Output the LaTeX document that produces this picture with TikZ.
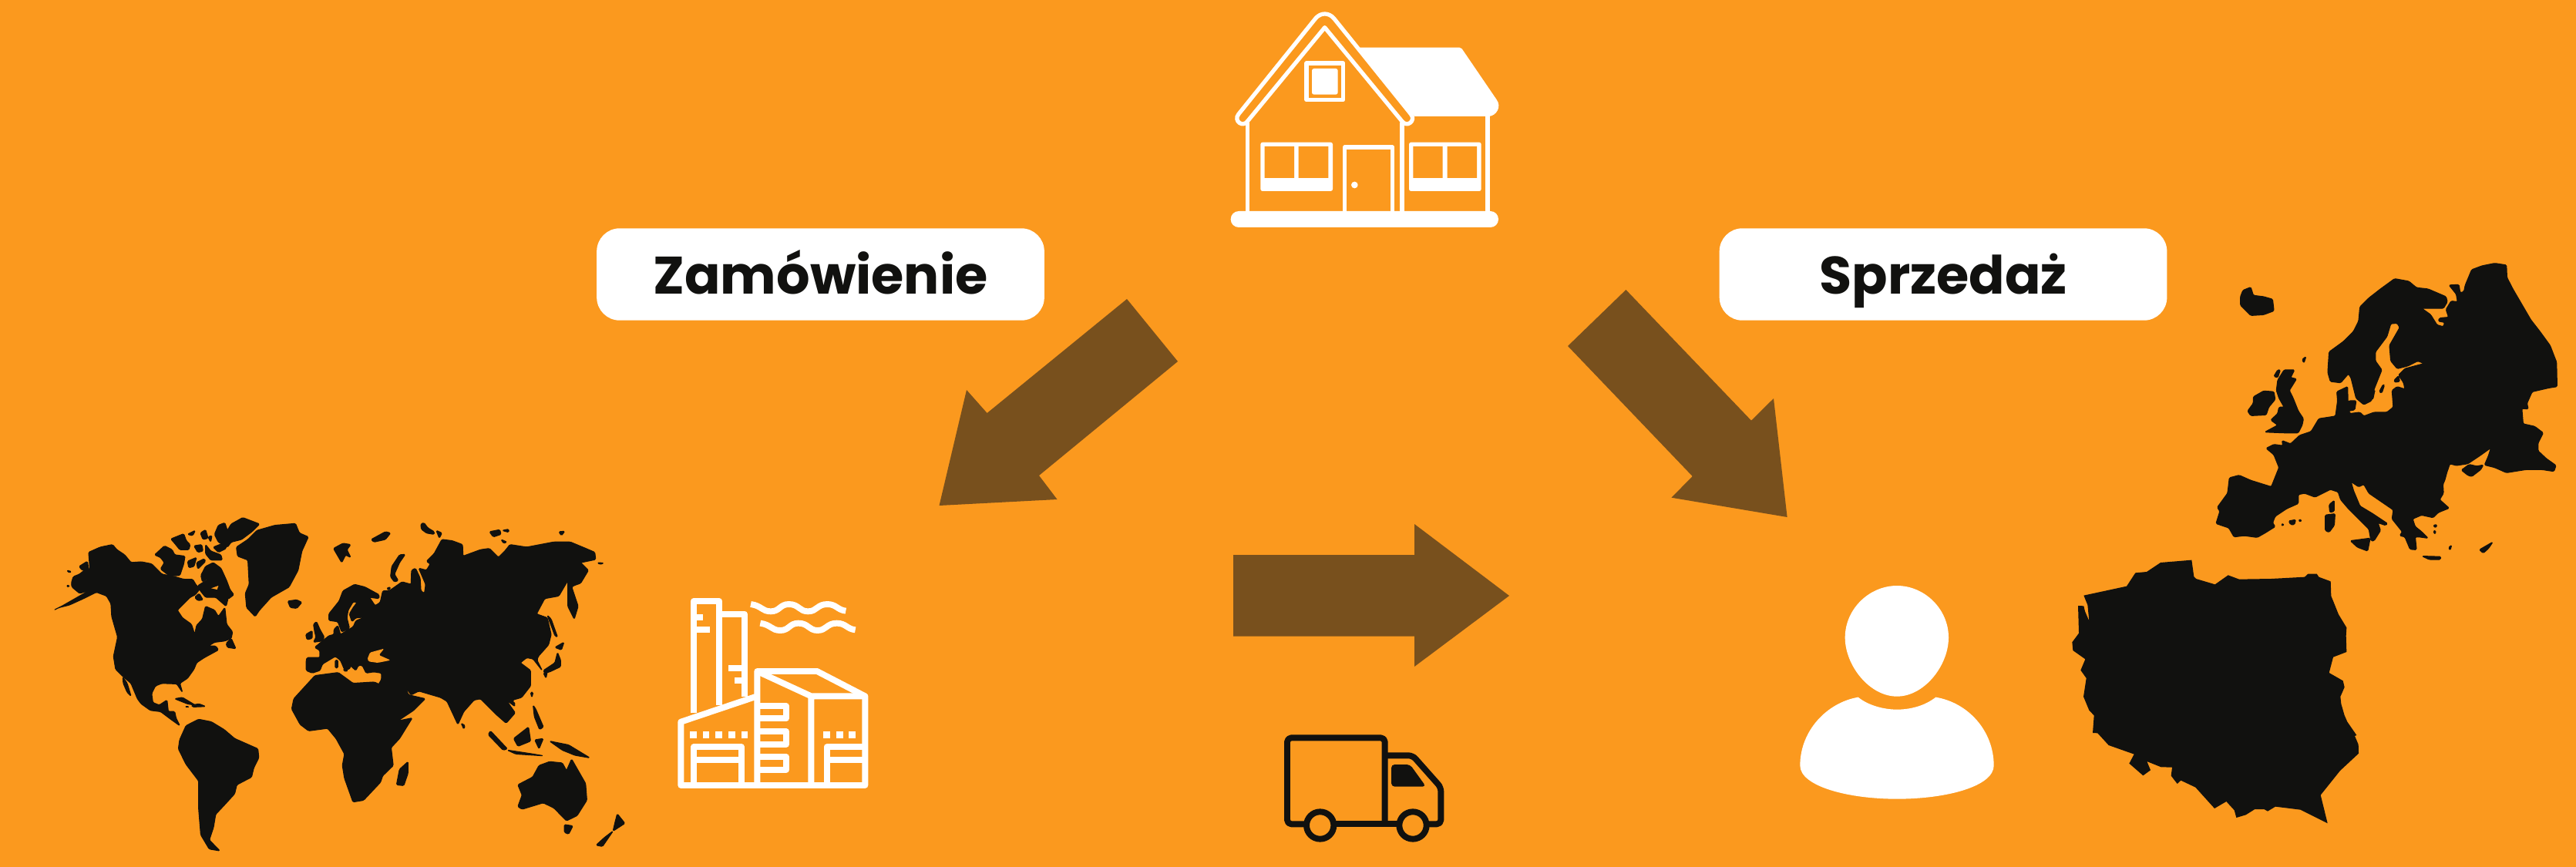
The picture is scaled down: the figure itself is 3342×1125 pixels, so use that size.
\documentclass[tikz,border=0pt]{standalone}
\usepackage{fontspec}
\setmainfont{Poppins}[BoldFont={Poppins Bold}]
\definecolor{bgc}{HTML}{FB991E}
\definecolor{inkc}{HTML}{11110F}
\definecolor{arrc}{HTML}{78501D}
\tikzset{
  labelbox/.style={fill=white,rounded corners=17pt,minimum width=330.5pt,minimum height=68pt,inner sep=0pt,text=inkc,font=\fontsize{39}{39}\selectfont\bfseries,text height=29.5pt,text depth=0pt},
  blockarrow/.style={fill=arrc},
  houseline/.style={draw=white,line width=3pt,line join=round},
  housefill/.style={fill=white},
  factoryline/.style={draw=white,line width=4.5pt,line join=round},
  truckline/.style={draw=inkc,line width=4.5pt,line join=round},
  landmass/.style={fill=inkc,draw=inkc,line width=0.7pt,line join=round,rounded corners=0.8pt},
  polandshape/.style={fill=inkc},
  seawater/.style={fill=bgc,rounded corners=0.8pt}
}
\begin{document}
\begin{tikzpicture}[x=0.02cm,y=-0.02cm]
\useasboundingbox (0,0) rectangle (3342,1125);
\fill[bgc] (0,0) rectangle (3342,1125);

% labels
\node[labelbox] (zam) at (1064.5,356) {Zamówienie};
\node[labelbox] (sprz) at (2521,356) {Sprzedaż};

% block arrows
\fill[blockarrow] (1462,388) -- (1528,469) -- (1348,617) -- (1371.5,648) -- (1218.5,656) -- (1254,506) -- (1280.6,536) -- cycle;
\fill[blockarrow] (2109.4,376) -- (2272,545.7) -- (2301,517) -- (2318.6,671) -- (2168.5,645.7) -- (2195.7,618) -- (2034,449) -- cycle;
\fill[blockarrow] (1600,720) -- (1835,720) -- (1835,680) -- (1958,773) -- (1835,865) -- (1835,825.7) -- (1600,825.7) -- cycle;

% house
\begin{scope}[shift={(1560,0)},scale=1/3]
\fill[housefill] (610,185) -- (1000,185) .. controls (1005,185) and (1007,186) .. (1010,190) -- (1145,388) .. controls (1165,415) and (1145,450) .. (1115,453) -- (826,453) -- cycle;
\draw[houseline] (440,72) .. controls (460,48) and (492,48) .. (512,72) -- (812,445) .. controls (832,470) and (795,500) .. (775,470) -- (476,107) -- (177,470) .. controls (157,500) and (120,470) .. (140,445) -- cycle;
\draw[houseline] (175,478) -- (175,830) (777,478) -- (777,830) (1110,450) -- (1110,830);
\fill[housefill,rounded corners=5.9pt] (110,822) rectangle (1152,885);
\draw[houseline] (405,246) rectangle (548,389);
\fill[housefill,rounded corners=1.5pt] (426,267) rectangle (527,368);
\fill[housefill,rounded corners=1.5pt] (226,554) rectangle (507,744);
\fill[bgc] (242,570) rectangle (357,693) (374,570) rectangle (490,693);
\fill[housefill,rounded corners=1.5pt] (804,554) rectangle (1085,744);
\fill[bgc] (820,570) rectangle (935,693) (953,570) rectangle (1068,693);
\draw[houseline] (554,830) -- (554,573) -- (740,573) -- (740,830);
\fill[housefill] (592,720) circle (13);
\end{scope}

% factory
\begin{scope}[shift={(860,760)},scale=1/3]
\draw[factoryline] (120,495) -- (120,60) -- (219,60) -- (219,465);
\draw[factoryline] (219,110) -- (318,110) -- (318,432);
\draw[factoryline] (120,122) -- (157,122) (120,172) -- (182,172) (318,320) -- (255,320) (318,370) -- (280,370);
\draw[factoryline] (342,72) .. controls (385,78) and (385,100) .. (420,100) .. controls (455,100) and (455,72) .. (490,72) .. controls (530,72) and (530,100) .. (565,100) .. controls (600,100) and (600,72) .. (640,72) .. controls (675,72) and (680,95) .. (712,98);
\draw[factoryline] (379,146) .. controls (422,152) and (422,174) .. (457,174) .. controls (492,174) and (492,146) .. (527,146) .. controls (567,146) and (567,174) .. (602,174) .. controls (637,174) and (637,146) .. (677,146) .. controls (712,146) and (717,169) .. (749,172);
\draw[factoryline] (367,430) -- (70,530) -- (70,777) -- (787,777) -- (787,430) -- (600,333) -- (367,333) -- (367,777);
\draw[factoryline] (367,333) -- (577,430) -- (787,430) (577,430) -- (577,777);
\draw[factoryline] (120,777) -- (120,628) -- (305,628) -- (305,777) (120,678) -- (305,678);
\draw[factoryline] (638,777) -- (638,628) -- (787,628) (638,678) -- (787,678);
\draw[factoryline] (367,468) -- (479,468) -- (479,517) -- (367,517) (367,567) -- (479,567) -- (479,617) -- (367,617) (367,666) -- (479,666) -- (479,716) -- (367,716);
\foreach \dx in {105,155,205,255,305,624,675,724} \fill[white] (\dx,567) rectangle ++(26,27);
\end{scope}

% truck
\begin{scope}[shift={(1640,920)},scale=1/3]
\draw[truckline,rounded corners=3pt] (160,448) -- (90,448) -- (90,112) -- (470,112) -- (470,448);
\draw[truckline] (275,448) -- (520,448);
\draw[truckline,rounded corners=3pt] (470,181) -- (578,181) -- (688,305) -- (688,448) -- (638,448);
\draw[truckline] (218,453) circle (53) (579,453) circle (53);
\fill[inkc,rounded corners=2.5pt] (495,216) -- (568,216) -- (630,302) -- (495,302) -- cycle;
\end{scope}

% person
\begin{scope}[shift={(2300,740)},scale=1/3]
\fill[white] (483,60) .. controls (590,60) and (684,150) .. (684,262) .. controls (684,370) and (590,491) .. (483,491) .. controls (376,491) and (281,370) .. (281,262) .. controls (281,150) and (376,60) .. (483,60) -- cycle;
\fill[white] (332,494) .. controls (370,525) and (430,542) .. (483,542) .. controls (540,542) and (595,525) .. (634,494) .. controls (760,515) and (860,625) .. (860,760) .. controls (860,840) and (680,890) .. (483,890) .. controls (290,890) and (106,840) .. (106,760) .. controls (106,625) and (210,515) .. (332,494) -- cycle;
\end{scope}

% Poland
\begin{scope}[shift={(2640,710)},scale=1/3]
\fill[polandshape] (190,188) -- (357,152) -- (391,100) -- (435,96) -- (489,60) -- (610,50) -- (619,115) -- (627,123) -- (701,145) -- (752,109) -- (795,125) -- (920,123) -- (1050,116) -- (1063,104) -- (1097,104) -- (1105,116) -- (1151,133) -- (1153,190) -- (1182,262) -- (1213,313) -- (1211,345) -- (1213,408) -- (1161,428) -- (1145,489) -- (1199,520) -- (1205,545) -- (1189,582) -- (1192,610) -- (1205,655) -- (1216,680) -- (1252,732) -- (1245,735) -- (1259,768) -- (1260,803) -- (1188,870) -- (1112,965) -- (1139,1075) -- (1033,1022) -- (936,1010) -- (906,1028) -- (892,1020) -- (856,1020) -- (821,1042) -- (784,1053) -- (776,1024) -- (745,990) -- (699,1017) -- (625,935) -- (568,908) -- (554,921) -- (530,890) -- (534,857) -- (491,856) -- (436,834) -- (450,868) -- (421,889) -- (367,842) -- (386,806) -- (287,771) -- (244,724) -- (225,723) -- (230,655) -- (211,635) -- (189,582) -- (200,510) -- (178,479) -- (196,436) -- (148,402) -- (145,370) -- (171,335) -- (168,228) -- (190,229) -- (195,250) -- (211,287) -- (205,225) -- cycle;
\end{scope}

% Europe
\begin{scope}[shift={(2840,320)},scale=1/3]
\fill[landmass] (1235,72) -- (1237,120) -- (1260,165) -- (1295,225) -- (1330,285) -- (1365,330) -- (1405,385) -- (1430,450) -- (1432,545) -- (1400,550) -- (1335,565) -- (1315,610) -- (1320,632) -- (1295,630) -- (1300,690) -- (1345,700) -- (1378,725) -- (1358,765) -- (1358,795) -- (1390,825) -- (1428,852) -- (1420,875) -- (1375,868) -- (1310,868) -- (1235,880) -- (1190,860) -- (1150,850) -- (1165,815) -- (1175,783) -- (1130,815) -- (1085,845) -- (1040,852) -- (1015,845) -- (1003,880) -- (995,910) -- (988,925) -- (990,960) -- (975,985) -- (1012,1018) -- (970,1035) -- (950,1055) -- (905,1045) -- (870,1060) -- (880,1090) -- (905,1110) -- (930,1135) -- (895,1130) -- (880,1130) -- (885,1180) -- (860,1178) -- (840,1130) -- (820,1125) -- (830,1110) -- (790,1060) -- (795,1025) -- (700,960) -- (680,925) -- (660,935) -- (630,915) -- (640,950) -- (665,1010) -- (715,1040) -- (772,1078) -- (765,1085) -- (735,1075) -- (745,1105) -- (720,1145) -- (708,1145) -- (700,1100) -- (660,1060) -- (620,1020) -- (590,985) -- (580,955) -- (550,945) -- (490,975) -- (450,960) -- (425,965) -- (425,1000) -- (380,1020) -- (335,1050) -- (325,1075) -- (335,1090) -- (295,1115) -- (265,1132) -- (215,1125) -- (175,1130) -- (155,1095) -- (105,1078) -- (120,1030) -- (110,1015) -- (150,960) -- (157,900) -- (195,890) -- (240,910) -- (320,935) -- (350,860) -- (330,810) -- (300,785) -- (330,770) -- (365,775) -- (362,755) -- (395,768) -- (430,735) -- (475,720) -- (505,670) -- (570,660) -- (578,600) -- (575,565) -- (617,545) -- (618,600) -- (625,650) -- (665,645) -- (680,660) -- (720,645) -- (770,645) -- (795,625) -- (790,560) -- (810,545) -- (840,555) -- (835,530) -- (815,500) -- (840,475) -- (915,455) -- (890,445) -- (850,465) -- (810,475) -- (785,445) -- (780,385) -- (820,315) -- (810,298) -- (785,300) -- (770,350) -- (725,410) -- (725,445) -- (750,480) -- (720,555) -- (710,600) -- (680,615) -- (650,590) -- (630,510) -- (620,495) -- (590,530) -- (550,525) -- (540,490) -- (545,410) -- (600,370) -- (640,330) -- (660,290) -- (665,235) -- (700,200) -- (745,165) -- (800,125) -- (855,135) -- (885,160) -- (930,165) -- (1000,195) -- (1005,215) -- (990,240) -- (905,240) -- (940,265) -- (965,305) -- (990,312) -- (995,295) -- (970,290) -- (975,278) -- (1010,275) -- (1000,245) -- (1020,212) -- (1045,215) -- (1040,185) -- (1012,150) -- (1050,148) -- (1055,180) -- (1070,175) -- (1075,150) -- (1100,90) -- (1140,75) -- (1190,65) -- cycle;
% Iceland
\fill[landmass] (200,195) -- (210,170) -- (240,158) -- (250,190) -- (290,195) -- (325,205) -- (330,250) -- (290,265) -- (240,268) -- (200,228) -- cycle;
% Ireland
\fill[landmass] (250,585) -- (290,562) -- (330,565) -- (335,595) -- (310,625) -- (300,655) -- (240,658) -- (228,640) -- (250,610) -- cycle;
% Great Britain
\fill[landmass] (345,520) -- (370,480) -- (410,480) -- (395,510) -- (418,515) -- (390,560) -- (405,590) -- (425,640) -- (445,670) -- (440,695) -- (425,725) -- (370,725) -- (295,722) -- (345,695) -- (318,675) -- (345,650) -- (350,625) -- (370,625) -- (350,590) -- (340,560) -- cycle;
\fill[landmass] (330,505) -- (345,480) -- (355,480) -- (345,510) -- cycle;
\fill[landmass] (440,440) -- (455,428) -- (447,453) -- cycle;
% Denmark islands, Gotland, Oland
\fill[landmass] (600,610) -- (625,600) -- (650,600) -- (645,635) -- (620,640) -- cycle;
\fill[landmass] (740,565) -- (755,537) -- (760,540) -- (750,570) -- cycle;
\fill[landmass] (712,590) -- (720,560) -- (722,562) -- (716,592) -- cycle;
\fill[landmass] (798,520) -- (815,503) -- (820,525) -- (800,528) -- cycle;
% Mediterranean islands
\fill[landmass] (545,1005) -- (565,988) -- (565,1030) -- (548,1035) -- cycle;
\fill[landmass] (530,1045) -- (568,1040) -- (565,1085) -- (545,1112) -- (530,1105) -- cycle;
\fill[landmass] (628,1145) -- (705,1135) -- (695,1185) -- (655,1170) -- cycle;
\fill[landmass] (388,1068) -- (415,1063) -- (410,1082) -- (395,1082) -- cycle;
\fill[landmass] (358,1082) -- (368,1078) -- (366,1088) -- cycle;
\fill[landmass] (425,1065) -- (437,1062) -- (435,1072) -- cycle;
\fill[landmass] (907,1205) -- (980,1207) -- (978,1218) -- (935,1218) -- cycle;
\fill[landmass] (1130,1180) -- (1182,1150) -- (1165,1175) -- (1145,1193) -- cycle;
\fill[landmass] (1010,1172) -- (1022,1162) -- (1016,1182) -- cycle;
\fill[landmass] (950,1085) -- (965,1082) -- (960,1095) -- cycle;
\fill[landmass] (950,1108) -- (960,1105) -- (958,1120) -- cycle;
% Crimea
\fill[landmass] (1060,870) -- (1090,848) -- (1120,855) -- (1145,850) -- (1135,868) -- (1100,895) -- (1085,890) -- cycle;
\end{scope}

% World: Americas and Atlantic north
\begin{scope}[shift={(70,660)},scale=1/3]
\fill[landmass] (68,290) -- (75,265) -- (100,255) -- (118,240) -- (140,235) -- (135,170) -- (180,150) -- (228,140) -- (245,160) -- (275,180) -- (300,210) -- (340,207) -- (380,215) -- (420,255) -- (470,265) -- (505,275) -- (540,275) -- (555,300) -- (570,310) -- (550,335) -- (530,345) -- (480,395) -- (500,425) -- (535,450) -- (548,490) -- (555,455) -- (578,430) -- (590,380) -- (625,395) -- (640,420) -- (665,385) -- (672,450) -- (695,480) -- (690,505) -- (665,515) -- (625,520) -- (600,535) -- (630,535) -- (640,550) -- (585,580) -- (555,600) -- (545,625) -- (520,660) -- (490,680) -- (500,715) -- (478,682) -- (420,680) -- (395,690) -- (380,720) -- (385,755) -- (410,765) -- (440,745) -- (445,790) -- (470,790) -- (475,815) -- (490,845) -- (455,820) -- (415,790) -- (375,785) -- (340,760) -- (325,740) -- (300,680) -- (265,650) -- (240,625) -- (232,575) -- (248,500) -- (225,420) -- (222,370) -- (205,340) -- (165,325) -- (145,335) -- (115,350) -- (60,375) -- (20,385) -- (0,395) -- (30,380) -- (100,340) -- (145,315) -- (100,330) -- (70,305) -- cycle;
% Arctic Canada
\fill[landmass] (572,260) -- (590,225) -- (620,210) -- (650,232) -- (672,280) -- (685,315) -- (700,335) -- (678,352) -- (665,330) -- (640,315) -- (625,290) -- (598,272) -- (578,285) -- cycle;
\fill[landmass] (560,300) -- (600,275) -- (640,300) -- (680,340) -- (670,380) -- (630,345) -- (590,345) -- (570,320) -- cycle;
\fill[bgc] (612,310) -- (640,300) -- (635,315) -- cycle;
\fill[landmass] (392,180) -- (430,145) -- (460,160) -- (470,180) -- (510,185) -- (505,215) -- (490,260) -- (450,262) -- (415,235) -- (430,210) -- (415,190) -- cycle;
\fill[landmass] (455,118) -- (505,98) -- (515,125) -- (530,140) -- (525,160) -- (490,160) -- (470,135) -- cycle;
\fill[landmass] (520,100) -- (550,85) -- (540,105) -- cycle;
\fill[landmass] (570,95) -- (590,82) -- (600,115) -- (580,120) -- cycle;
\fill[landmass] (600,110) -- (615,105) -- (610,130) -- cycle;
\fill[landmass] (545,145) -- (575,140) -- (580,165) -- (560,170) -- cycle;
\fill[landmass] (590,140) -- (610,165) -- (650,180) -- (655,200) -- (610,200) -- (590,175) -- cycle;
\fill[landmass] (520,205) -- (555,190) -- (545,225) -- (525,230) -- cycle;
\fill[landmass] (555,210) -- (585,195) -- (590,205) -- (560,235) -- cycle;
\fill[landmass] (620,150) -- (670,130) -- (670,155) -- (640,170) -- cycle;
\fill[landmass] (625,100) -- (640,65) -- (665,55) -- (675,85) -- (690,60) -- (735,35) -- (800,60) -- (770,90) -- (730,120) -- (690,130) -- (675,150) -- (640,130) -- cycle;
\fill[landmass] (548,345) -- (565,330) -- (580,355) -- (560,358) -- cycle;
\fill[landmass] (98,225) -- (130,205) -- (135,235) -- (110,240) -- cycle;
\fill[landmass] (50,240) -- (68,245) -- (60,250) -- cycle;
\fill[landmass] (48,300) -- (60,298) -- (58,306) -- cycle;
% Greenland, Iceland
\fill[landmass] (710,150) -- (755,120) -- (790,85) -- (860,65) -- (940,58) -- (955,95) -- (990,110) -- (965,165) -- (950,240) -- (915,305) -- (845,345) -- (800,395) -- (783,420) -- (750,385) -- (745,330) -- (760,295) -- (755,200) -- (715,185) -- cycle;
\fill[landmass] (910,360) -- (945,355) -- (965,365) -- (945,388) -- (920,385) -- cycle;
% Caribbean, Baja, Newfoundland
\fill[landmass] (470,740) -- (500,735) -- (525,750) -- (550,765) -- (520,760) -- cycle;
\fill[landmass] (535,765) -- (565,760) -- (590,770) -- (540,772) -- cycle;
\fill[landmass] (510,770) -- (525,770) -- (520,774) -- cycle;
\fill[landmass] (268,655) -- (285,680) -- (300,730) -- (285,715) -- (270,680) -- cycle;
\fill[landmass] (670,525) -- (690,505) -- (708,545) -- (675,540) -- cycle;
\end{scope}

% World: southern continents
\begin{scope}[shift={(0,650)},xscale=0.5485,yscale=1/3]
% South America
\fill[landmass] (425,930) -- (440,875) -- (470,850) -- (500,860) -- (530,890) -- (555,925) -- (610,965) -- (612,1000) -- (600,1040) -- (595,1075) -- (560,1105) -- (555,1140) -- (530,1185) -- (510,1220) -- (505,1270) -- (495,1320) -- (520,1362) -- (495,1355) -- (475,1300) -- (470,1200) -- (470,1090) -- (440,1025) -- (422,965) -- cycle;
% Africa
\fill[landmass] (690,810) -- (695,770) -- (720,725) -- (745,680) -- (800,668) -- (835,710) -- (885,705) -- (895,712) -- (940,835) -- (945,855) -- (975,845) -- (945,925) -- (925,960) -- (930,1030) -- (905,1070) -- (900,1095) -- (860,1165) -- (835,1172) -- (815,1080) -- (810,1030) -- (815,985) -- (795,925) -- (775,885) -- (730,895) -- (710,870) -- cycle;
% Madagascar
\fill[landmass] (965,1015) -- (965,1060) -- (955,1108) -- (938,1105) -- (945,1045) -- cycle;
% Indonesia
\fill[landmass] (1160,895) -- (1200,965) -- (1190,970) -- (1155,910) -- cycle;
\fill[landmass] (1200,970) -- (1260,985) -- (1285,992) -- (1220,985) -- cycle;
\fill[landmass] (1215,925) -- (1250,880) -- (1255,935) -- (1225,955) -- cycle;
\fill[landmass] (1265,930) -- (1285,925) -- (1275,965) -- cycle;
\fill[landmass] (1300,935) -- (1345,950) -- (1395,1000) -- (1360,990) -- (1330,970) -- cycle;
% Australia, Tasmania, New Zealand
\fill[landmass] (1225,1105) -- (1260,1075) -- (1275,1030) -- (1300,1015) -- (1330,1020) -- (1340,1050) -- (1352,1005) -- (1385,1100) -- (1388,1165) -- (1365,1225) -- (1340,1245) -- (1310,1195) -- (1285,1175) -- (1235,1200) -- (1225,1190) -- (1235,1145) -- cycle;
\fill[landmass] (1335,1260) -- (1355,1265) -- (1345,1297) -- (1335,1290) -- cycle;
\fill[landmass] (1460,1218) -- (1478,1255) -- (1450,1285) -- (1455,1250) -- cycle;
\fill[landmass] (1450,1285) -- (1425,1345) -- (1410,1340) -- (1430,1310) -- cycle;
\end{scope}

% World: Eurasia
\begin{scope}[shift={(390,660)},scale=1/3]
\fill[landmass] (22,590) -- (25,580) -- (75,580) -- (75,552) -- (55,540) -- (110,495) -- (130,490) -- (130,470) -- (145,455) -- (155,490) -- (205,460) -- (215,437) -- (250,422) -- (215,425) -- (200,440) -- (190,410) -- (205,385) -- (220,365) -- (205,362) -- (185,395) -- (180,425) -- (190,465) -- (160,480) -- (145,440) -- (110,435) -- (110,410) -- (150,360) -- (165,320) -- (210,295) -- (250,305) -- (305,335) -- (305,350) -- (268,345) -- (290,378) -- (310,365) -- (320,320) -- (345,320) -- (395,285) -- (430,295) -- (432,240) -- (447,232) -- (465,270) -- (468,320) -- (482,330) -- (487,295) -- (472,260) -- (460,232) -- (490,240) -- (505,215) -- (490,205) -- (520,175) -- (550,120) -- (590,125) -- (630,140) -- (632,185) -- (700,160) -- (735,155) -- (770,190) -- (795,165) -- (815,140) -- (880,150) -- (985,130) -- (1050,130) -- (1110,155) -- (1145,170) -- (1148,198) -- (1090,210) -- (1120,240) -- (1090,290) -- (1062,300) -- (1055,305) -- (1080,380) -- (1065,430) -- (1040,380) -- (1040,280) -- (1005,340) -- (950,350) -- (918,410) -- (960,425) -- (975,490) -- (965,530) -- (925,575) -- (920,590) -- (940,630) -- (905,585) -- (880,580) -- (855,600) -- (895,630) -- (895,690) -- (860,735) -- (825,745) -- (835,770) -- (800,745) -- (835,795) -- (800,835) -- (760,800) -- (740,780) -- (700,740) -- (675,745) -- (635,790) -- (612,840) -- (570,750) -- (545,735) -- (460,710) -- (430,725) -- (405,690) -- (420,725) -- (485,740) -- (440,785) -- (380,825) -- (340,755) -- (300,690) -- (315,665) -- (315,640) -- (285,635) -- (255,640) -- (240,610) -- (225,610) -- (215,630) -- (165,585) -- (160,565) -- (195,610) -- (190,625) -- (170,625) -- (155,590) -- (135,575) -- (85,605) -- (75,630) -- (45,640) -- (22,630) -- cycle;
\fill[seawater] (260,585) -- (270,560) -- (325,545) -- (305,570) -- (350,590) -- (300,600) -- (265,595) -- cycle;
% Europe islands
\fill[landmass] (50,450) -- (62,440) -- (75,470) -- (92,500) -- (85,515) -- (50,520) -- (60,500) -- (55,480) -- cycle;
\fill[landmass] (20,490) -- (45,475) -- (45,505) -- (25,510) -- cycle;
\fill[landmass] (135,590) -- (145,590) -- (145,620) -- (135,620) -- cycle;
\fill[landmass] (165,625) -- (185,628) -- (175,635) -- cycle;
% Arctic
\fill[landmass] (350,265) -- (355,225) -- (385,180) -- (407,178) -- (385,210) -- (365,255) -- (380,280) -- (365,285) -- cycle;
\fill[landmass] (128,155) -- (165,135) -- (195,140) -- (180,160) -- (195,190) -- (175,180) -- (160,210) -- cycle;
\fill[landmass] (275,120) -- (330,90) -- (350,95) -- (330,120) -- (285,130) -- cycle;
\fill[landmass] (468,60) -- (480,55) -- (495,75) -- (520,90) -- (520,100) -- (490,95) -- (470,80) -- cycle;
\fill[landmass] (528,85) -- (550,95) -- (540,115) -- cycle;
\fill[landmass] (735,90) -- (775,82) -- (780,100) -- (750,110) -- cycle;
\fill[landmass] (785,85) -- (810,80) -- (810,92) -- cycle;
\fill[landmass] (780,120) -- (803,130) -- (790,135) -- cycle;
\fill[landmass] (1005,90) -- (1028,88) -- (1015,105) -- cycle;
\fill[landmass] (1155,210) -- (1180,212) -- (1165,217) -- cycle;
\fill[landmass] (335,310) -- (350,305) -- (345,318) -- cycle;
% Far East islands
\fill[landmass] (1000,560) -- (1012,590) -- (1012,615) -- (970,635) -- (950,640) -- (945,630) -- (990,600) -- cycle;
\fill[landmass] (990,540) -- (1025,520) -- (1015,550) -- cycle;
\fill[landmass] (960,415) -- (975,430) -- (1000,500) -- (990,495) -- cycle;
\fill[landmass] (945,640) -- (960,635) -- (955,660) -- cycle;
\fill[landmass] (820,755) -- (835,755) -- (830,768) -- cycle;
\fill[landmass] (895,715) -- (905,715) -- (900,735) -- cycle;
\fill[landmass] (905,765) -- (915,780) -- (945,850) -- (930,860) -- (910,810) -- cycle;
\fill[landmass] (625,835) -- (640,845) -- (635,858) -- cycle;
\end{scope}
\end{tikzpicture}
\end{document}
